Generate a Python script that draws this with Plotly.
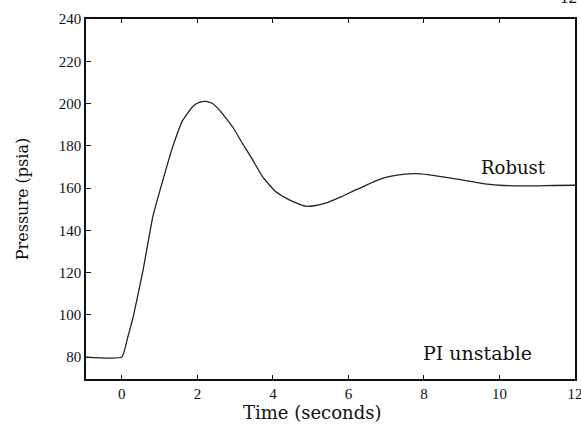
import plotly.graph_objects as go

# Data
time_s = [-0.95, 0.0, 0.15, 0.30, 0.56, 0.82, 1.09, 1.35, 1.61, 1.88, 2.05, 2.23, 2.40, 2.58,
          2.93, 3.19, 3.46, 3.72, 4.07, 4.42, 4.68, 4.86, 5.10, 5.39, 5.80, 6.18, 6.79,
          7.10, 7.49, 7.80, 8.10, 8.80, 9.68, 10.10, 10.56, 11.00, 11.44, 12.0]
pressure = [80, 80, 89, 99, 121, 146.5, 164, 179.7, 192, 198.6, 200.5, 201, 200, 197,
            189, 181.2, 173.4, 165.5, 158.3, 154.5, 152.5, 151.4, 151.6, 152.8, 155.8, 159, 163.9,
            165.5, 166.6, 166.8, 166.3, 164.4, 161.8, 161.2, 161, 161, 161.2, 161.3]

x_ticks = [0, 2, 4, 6, 8, 10, 12]
y_ticks = [80, 100, 120, 140, 160, 180, 200, 220, 240]

labels = ["Robust", "PI unstable"]
label_x = [10.38, 9.42]
label_y = [169.6, 82.0]
label_size = [18, 19]

FONT = "Liberation Serif"
TFONT = "DejaVu Serif"

fig = go.Figure()
fig.add_trace(go.Scatter(x=time_s, y=pressure, mode="lines",
                         line=dict(color="#222222", width=1.3, shape="spline", smoothing=0.4),
                         showlegend=False, hoverinfo="skip"))

for t, xx, yy, sz in zip(labels, label_x, label_y, label_size):
    fig.add_annotation(x=xx, y=yy, text=t, showarrow=False,
                       font=dict(family=TFONT, size=sz, color="#111111"))

# x-axis title (placed slightly left of centre, as in the reference)
fig.add_annotation(xref="paper", yref="paper", x=(312 - 86) / 489, y=0, yshift=-33,
                   xanchor="center", yanchor="middle", text="Time (seconds)", showarrow=False,
                   font=dict(family=TFONT, size=18, color="#111111"))

fig.add_annotation(xref="paper", yref="paper", x=1.0, y=1.0, yshift=10, xshift=4,
                   xanchor="right", yanchor="bottom", text="12", showarrow=False,
                   font=dict(family=FONT, size=17, color="#111111"))

fig.update_layout(
    width=581, height=430,
    margin=dict(l=86, r=6, t=19, b=51, autoexpand=False),
    paper_bgcolor="white", plot_bgcolor="white",
    font=dict(family=FONT, size=15, color="#111111"),
)
fig.update_xaxes(range=[-0.95, 12], tickvals=x_ticks, ticktext=[str(v) for v in x_ticks],
                 showgrid=False, zeroline=False, showline=True, linecolor="#111111", linewidth=1.5,
                 mirror="ticks", ticks="inside", ticklen=4, tickcolor="#111111",
                 ticklabeloverflow="allow",
                 tickfont=dict(family=FONT, size=15))
fig.update_yaxes(range=[69.6, 240], tickvals=y_ticks, ticktext=[str(v) for v in y_ticks],
                 showgrid=False, zeroline=False, showline=True, linecolor="#111111", linewidth=1.5,
                 mirror=True, ticks="inside", ticklen=5, tickcolor="#111111",
                 title=dict(text="Pressure (psia)", font=dict(family=TFONT, size=16), standoff=26),
                 tickfont=dict(family=FONT, size=15))

fig.write_html("out.html", config={"displayModeBar": False},
               post_script="document.body.style.margin='0';document.body.style.overflow='hidden';")
